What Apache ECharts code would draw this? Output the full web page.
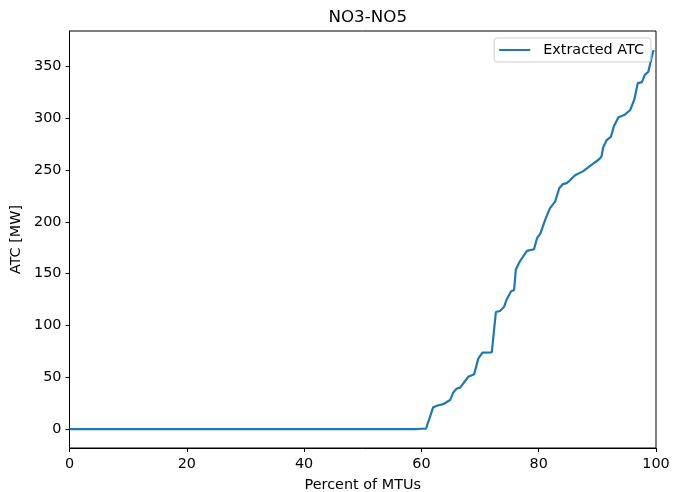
<!DOCTYPE html>
<html>
<head>
<meta charset="utf-8">
<script src="https://cdn.jsdelivr.net/npm/echarts@6/dist/echarts.min.js"></script>
<style>
  html, body { margin: 0; padding: 0; background: #fff; }
  #chart { width: 673px; height: 492px; }
</style>
</head>
<body>
<div id="chart"></div>
<script>
// percent of MTUs (sorted) and extracted ATC values
const pctValues = [0, 59, 60, 60.8, 62, 62.9, 63.7, 64.9, 65.4, 66, 66.6, 68, 69, 69.7, 70.4, 72, 72.7, 73.4, 74.1, 74.5, 75.3, 75.8, 76.1, 76.8, 78, 79.2, 79.7, 80.3, 81.1, 81.9, 82.8, 83.5, 84.1, 84.8, 85.3, 86.2, 87.6, 89, 90.2, 90.7, 91, 91.6, 92.3, 92.8, 93.6, 94.7, 95.6, 96.3, 96.9, 97.6, 98.1, 98.7, 99.3, 99.6]
const atcValues = [0, 0, 0.3, 0.5, 21, 23, 24, 28, 35, 39, 40, 50.5, 53, 68, 73.7, 74, 113, 114, 118, 124.6, 133, 134, 154, 162, 172, 173.6, 184, 189, 202, 213, 219.6, 232.5, 236.4, 237.4, 240, 245, 249, 255, 260, 263, 272, 279, 282, 292, 301, 303.5, 308, 318, 334, 335, 342, 345, 360, 366]
const yTicks = [0, 50, 100, 150, 200, 250, 300, 350]
const xTicks = [0, 20, 40, 60, 80, 100]

const chart = echarts.init(document.getElementById('chart'))
const font = 'DejaVu Sans'
const labelSize = 14.4

const option = {
  animation: false,
  textStyle: { fontFamily: font },
  title: {
    text: 'NO3-NO5',
    left: 362.75,
    textAlign: 'center',
    top: 4,
    textStyle: { fontFamily: font, fontSize: 16.7, fontWeight: 'normal', color: '#000' }
  },
  legend: {
    right: 22,
    top: 38,
    padding: [5, 7, 5, 5],
    icon: 'rect',
    itemWidth: 31,
    itemHeight: 2,
    borderColor: '#d0d0d0',
    borderWidth: 1,
    borderRadius: 3,
    textStyle: { fontFamily: font, fontSize: labelSize, color: '#000', padding: [0, 0, 0, 8] },
    data: ['Extracted ATC']
  },
  grid: {
    left: 69.5,
    right: 17,
    top: 31,
    bottom: 44,
    outerBoundsMode: 'none',
    containLabel: false,
    show: true,
    borderColor: '#000',
    borderWidth: 1
  },
  xAxis: {
    type: 'value',
    min: 0,
    max: 100,
    interval: 20,
    name: 'Percent of MTUs',
    nameLocation: 'middle',
    nameGap: 30,
    nameTextStyle: { fontFamily: font, fontSize: labelSize, color: '#000' },
    axisLine: { show: true, onZero: false, lineStyle: { color: '#000', width: 1 } },
    axisTick: { show: true, inside: false, length: 4, lineStyle: { color: '#000' }, customValues: xTicks },
    axisLabel: { color: '#000', fontSize: labelSize, margin: 9, customValues: xTicks },
    splitLine: { show: false }
  },
  yAxis: {
    type: 'value',
    min: -18.3,
    max: 384.3,
    name: 'ATC [MW]',
    nameLocation: 'middle',
    nameGap: 46,
    nameTextStyle: { fontFamily: font, fontSize: labelSize, color: '#000' },
    axisLine: { show: true, onZero: false, lineStyle: { color: '#000', width: 1 } },
    axisTick: { show: true, inside: false, length: 4, lineStyle: { color: '#000' }, customValues: yTicks },
    axisLabel: { color: '#000', fontSize: labelSize, margin: 8, customValues: yTicks },
    splitLine: { show: false }
  },
  series: [
    {
      name: 'Extracted ATC',
      type: 'line',
      data: pctValues.map((p, i) => [p, atcValues[i]]),
      symbol: 'none',
      itemStyle: { color: '#1f77b4' },
      lineStyle: { color: '#1f77b4', width: 2.2 },
      smooth: false
    }
  ]
}
chart.setOption(option)
</script>
</body>
</html>
